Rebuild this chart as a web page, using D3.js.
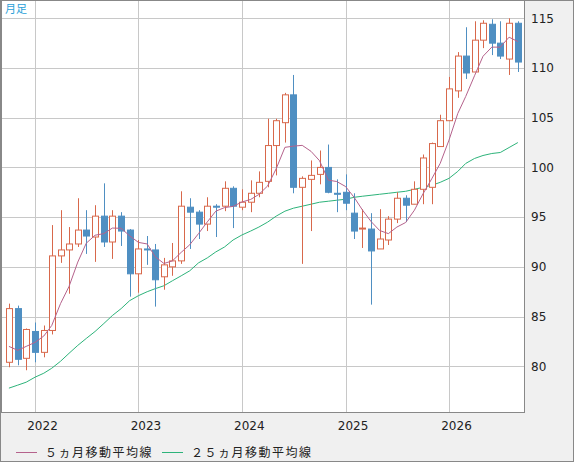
<!DOCTYPE html>
<html><head><meta charset="utf-8">
<script src="https://cdn.jsdelivr.net/npm/d3@7"></script>
<style>body{margin:0;background:#f0f0f0}svg{display:block}</style>
</head><body><svg id="c" width="574" height="462"></svg>
<script>
const months = d3.range(60).map(i => new Date(2021, 9 + i, 1));
const opens  = [80.4,85.8,80.8,83.5,81.4,83.6,91.1,91.7,92.3,93.7,93.0,95.1,92.5,95.1,93.7,89.3,91.8,91.7,89.0,90.0,90.6,96.0,95.5,94.3,96.1,96.1,97.9,96.0,96.5,97.4,98.6,102.2,104.5,107.3,98.0,98.8,99.3,100.0,97.4,97.5,95.4,93.8,93.8,91.8,92.7,94.8,96.9,96.3,97.8,98.0,102.1,104.7,107.7,111.2,109.6,112.8,114.4,112.5,110.9,114.5];
const highs  = [86.3,86.1,83.8,84.4,84.1,94.2,95.7,94.0,96.9,95.7,96.2,98.4,95.7,95.5,93.8,92.7,93.1,92.3,90.9,92.4,97.6,96.9,95.7,97.0,96.3,98.6,98.1,97.8,98.7,99.6,104.9,104.9,107.5,109.3,99.1,100.7,101.7,102.3,98.8,99.3,97.4,95.8,95.4,95.8,95.1,97.5,97.2,98.6,101.3,102.5,105.3,109.1,111.6,114.1,114.7,114.8,114.9,114.7,115.0,114.7];
const lows   = [79.9,80.1,79.6,80.4,80.9,83.2,90.4,87.3,92.0,91.3,90.5,92.0,90.8,92.1,87.0,87.4,90.2,86.0,87.7,89.1,90.3,91.8,92.8,93.6,93.0,95.6,93.9,95.7,95.5,97.0,98.0,99.2,102.5,97.4,90.3,93.6,98.3,97.4,95.5,95.7,92.8,91.9,86.2,91.8,92.2,94.4,94.5,96.3,96.3,96.3,102.1,104.7,107.0,108.9,109.6,112.0,111.3,110.9,109.3,109.6];
const closes = [85.8,80.7,83.7,81.4,83.6,91.1,91.7,92.3,93.7,93.1,95.1,92.5,95.1,93.6,89.3,91.8,91.7,88.7,90.2,90.6,96.1,95.5,94.3,96.1,96.0,97.9,96.1,96.5,97.4,98.5,102.2,104.7,107.3,98.0,98.9,99.2,100.0,97.5,97.3,96.4,93.6,93.9,91.6,92.8,94.8,96.9,96.2,97.8,100.95,102.4,104.7,107.9,111.2,109.5,112.8,114.5,112.5,111.2,114.5,110.6];
const ma5Lead = [82.0,81.6,82.0,82.4];
const ma25 = [77.8,78.1,78.4,78.9,79.3,79.8,80.5,81.3,82.1,82.8,83.5,84.3,85.1,85.8,86.6,87.1,87.5,87.8,88.1,88.6,89.1,89.6,90.4,90.9,91.5,92.0,92.7,93.2,93.6,94.0,94.5,95.1,95.6,95.9,96.1,96.3,96.5,96.6,96.7,96.8,97.0,97.1,97.2,97.3,97.4,97.5,97.6,97.8,98.0,98.2,98.5,98.9,99.6,100.4,100.9,101.2,101.4,101.5,102.0,102.5];
const yTicks = [80,85,90,95,100,105,110,115];
const xTicks = [2022,2023,2024,2025,2026];
const legendLabels = ["５ヵ月移動平均線","２５ヵ月移動平均線"];

const ma5 = closes.map((c,i)=> i<4 ? ma5Lead[i] : d3.mean(closes.slice(i-4,i+1)));

const svg = d3.select("#c");
const L=2, T=1, R=524, B=412;
const x = d3.scaleTime().domain([new Date(2022,0,1), new Date(2026,0,1)]).range([35,449]);
const y = d3.scaleLinear().domain([75.4,116.84]).range([B,0]);
const UP="#d8684b", DN="#4f8fc2";

svg.append("rect").attr("x",0.5).attr("y",0.5).attr("width",573).attr("height",461).attr("fill","#f0f0f0").attr("stroke","#888");
svg.append("rect").attr("x",L).attr("y",T).attr("width",R-L).attr("height",B-T).attr("fill","#fff");

const g = svg.append("g");
g.selectAll(".hg").data(yTicks).join("line").attr("x1",L).attr("x2",R).attr("y1",d=>Math.round(y(d))+0.5).attr("y2",d=>Math.round(y(d))+0.5).attr("stroke","#c8c8c8");
g.selectAll(".vg").data(xTicks).join("line").attr("y1",T).attr("y2",B).attr("x1",d=>Math.round(x(new Date(d,0,1)))+0.5).attr("x2",d=>Math.round(x(new Date(d,0,1)))+0.5).attr("stroke","#c8c8c8");

const line = d3.line().x((d,i)=>x(months[i])).y(d=>y(d));
const clip = svg.append("clipPath").attr("id","cp").append("rect").attr("x",L).attr("y",T).attr("width",R-L).attr("height",B-T);
const pg = svg.append("g").attr("clip-path","url(#cp)");
pg.append("path").datum(ma25).attr("d",line).attr("fill","none").attr("stroke","#2db37a").attr("stroke-width",1);

const cw=6;
const c = pg.selectAll(".cd").data(months).join("g");
c.append("line").attr("x1",(d)=>Math.round(x(d))+0.5).attr("x2",d=>Math.round(x(d))+0.5)
 .attr("y1",(d,i)=>y(highs[i])).attr("y2",(d,i)=>y(lows[i]))
 .attr("stroke",(d,i)=>closes[i]>=opens[i]?UP:DN).attr("stroke-width",1);
c.append("rect").attr("x",d=>Math.round(x(d))-cw/2+0.5).attr("width",cw)
 .attr("y",(d,i)=>y(Math.max(opens[i],closes[i])))
 .attr("height",(d,i)=>Math.max(1,Math.abs(y(opens[i])-y(closes[i]))))
 .attr("fill",(d,i)=>closes[i]>=opens[i]?"#fff":DN)
 .attr("stroke",(d,i)=>closes[i]>=opens[i]?UP:DN).attr("stroke-width",1);

pg.append("path").datum(ma5).attr("d",line).attr("fill","none").attr("stroke","#b5628c").attr("stroke-width",1);

svg.append("rect").attr("x",L-0.5).attr("y",T-0.5).attr("width",R-L+1).attr("height",B-T+1).attr("fill","none").attr("stroke","#888");

svg.append("g").attr("transform",`translate(${R},0)`)
 .call(d3.axisRight(y).tickValues(yTicks).tickSize(0).tickPadding(7))
 .call(a=>a.select(".domain").remove())
 .call(a=>a.selectAll("text").attr("font-family","DejaVu Sans").attr("font-size",12).attr("fill","#222"));

svg.append("g").attr("transform",`translate(7,${B})`)
 .call(d3.axisBottom(x).tickValues(xTicks.map(d=>new Date(d,0,1))).tickFormat(d3.timeFormat("%Y")).tickSize(0).tickPadding(9))
 .call(a=>a.select(".domain").remove())
 .call(a=>a.selectAll("text").attr("font-family","DejaVu Sans").attr("font-size",12).attr("fill","#222"));

svg.append("text").attr("x",5).attr("y",13).text("月足").attr("font-family","Noto Sans CJK JP").attr("font-size",11).attr("fill","#2aa0d8");

const lg = [{x:16,c:"#b5628c"},{x:162,c:"#2db37a"}];
lg.forEach((l,i)=>{
  svg.append("line").attr("x1",l.x).attr("x2",l.x+21).attr("y1",452.5).attr("y2",452.5).attr("stroke",l.c);
  svg.append("text").attr("x",l.x+29).attr("y",457).text(legendLabels[i]).attr("font-family","Noto Sans CJK JP").attr("font-size",12).attr("letter-spacing",1.5).attr("fill","#222");
});
</script></body></html>
